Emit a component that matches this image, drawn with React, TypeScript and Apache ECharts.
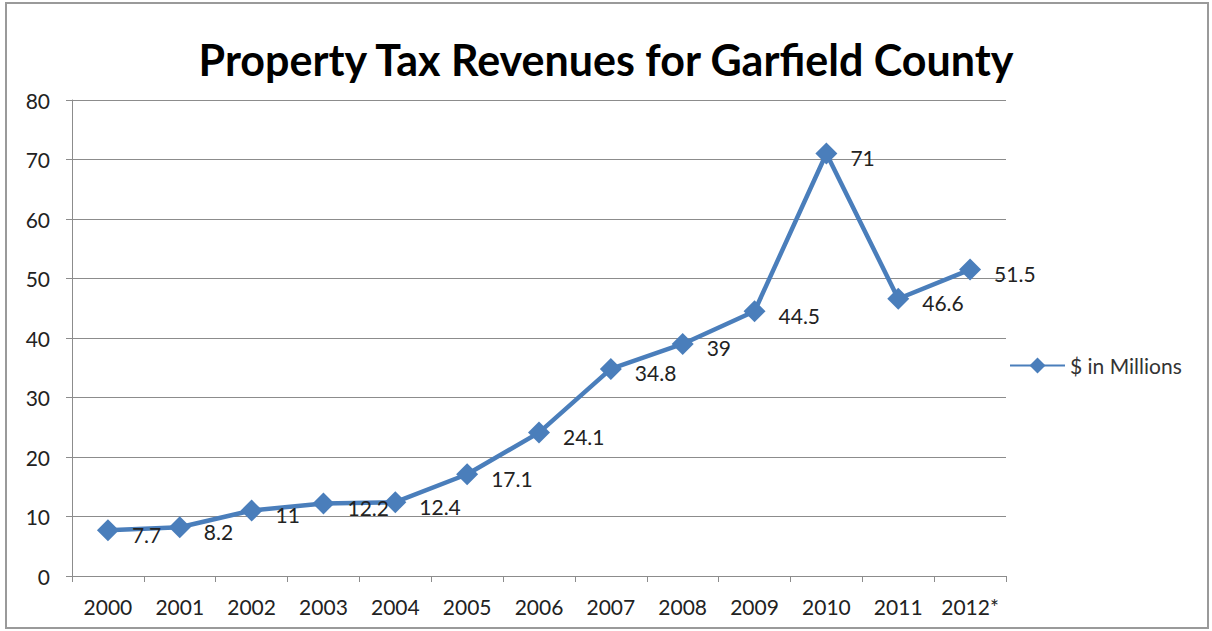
import React, { useEffect, useRef } from "react";
import * as echarts from "echarts";

const categories = ["2000", "2001", "2002", "2003", "2004", "2005", "2006", "2007", "2008", "2009", "2010", "2011", "2012*"];
const values = [7.7, 8.2, 11, 12.2, 12.4, 17.1, 24.1, 34.8, 39, 44.5, 71, 46.6, 51.5];
const seriesName = "$ in Millions";
const titleText = "Property Tax Revenues for Garfield County";

export default function App() {
  const ref = useRef<HTMLDivElement>(null);
  useEffect(() => {
    document.body.style.margin = "0";
    const chart = echarts.init(ref.current!, null, { renderer: "svg" });
    const font = "Lato";
    chart.setOption({
      animation: false,
      backgroundColor: "#ffffff",
      title: {
        text: titleText,
        left: "center",
        top: 33,
        textStyle: { fontFamily: font, fontWeight: "bold", fontSize: 43, color: "#000" },
      },
      graphic: [
        {
          type: "rect",
          shape: { x: 6, y: 3, width: 1202, height: 625 },
          style: { fill: "none", stroke: "#9a9a9a", lineWidth: 2 },
          silent: true,
        },
      ],
      legend: {
        data: [seriesName],
        left: 1004,
        top: 350,
        itemWidth: 55,
        itemHeight: 20,
        itemGap: 4,
        textStyle: { fontFamily: font, fontSize: 21, color: "#333" },
      },
      grid: { left: 72, right: 206, top: 100, bottom: 55 },
      xAxis: {
        type: "category",
        data: categories,
        boundaryGap: true,
        axisLine: { lineStyle: { color: "#8c8c8c", width: 1 } },
        axisTick: { show: true, length: 6, alignWithLabel: false, lineStyle: { color: "#8c8c8c" } },
        axisLabel: { fontFamily: font, fontSize: 21, color: "#222", margin: 20, interval: 0 },
      },
      yAxis: {
        type: "value",
        min: 0,
        max: 80,
        interval: 10,
        axisLine: { show: true, lineStyle: { color: "#8c8c8c", width: 1 } },
        axisTick: { show: true, length: 6, lineStyle: { color: "#8c8c8c" } },
        splitLine: { lineStyle: { color: "#8c8c8c", width: 1 } },
        axisLabel: { fontFamily: font, fontSize: 21, color: "#222", margin: 22 },
      },
      series: [
        {
          name: seriesName,
          type: "line",
          data: values,
          symbol: "diamond",
          symbolSize: 22,
          lineStyle: { color: "#4a7ebb", width: 4.5 },
          itemStyle: { color: "#4a7ebb" },
          label: {
            show: true,
            position: "right",
            distance: 13,
            offset: [0, 4],
            fontFamily: font,
            fontSize: 21,
            color: "#222",
          },
        },
      ],
    });
    return () => chart.dispose();
  }, []);
  return <div ref={ref} style={{ width: 1212, height: 631 }} />;
}
